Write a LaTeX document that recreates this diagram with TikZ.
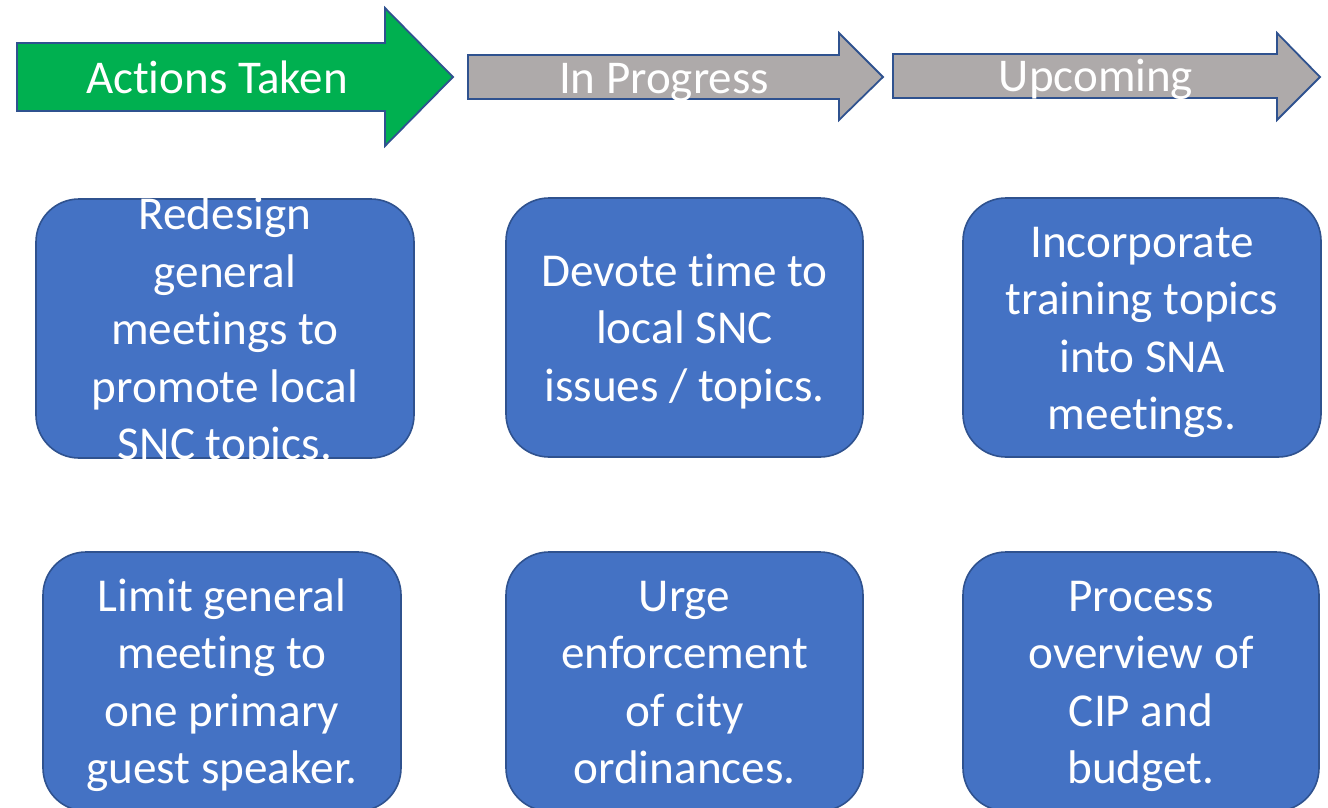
\documentclass[tikz,border=0pt]{standalone}
\usepackage{fontspec}
\setmainfont{Carlito}[Ligatures={NoCommon,NoContextual}]
\definecolor{actgreen}{HTML}{00B050}
\definecolor{stepgray}{HTML}{AEAAAA}
\definecolor{boxblue}{HTML}{4472C4}
\definecolor{edgeblue}{HTML}{2F528F}
\newcommand\sa{\rule[-12.75pt]{0pt}{57.5pt}}
\newcommand\tI{t\kern0pt i}
\tikzset{
  arrowshape/.style={draw=edgeblue, line width=1.8pt, line join=miter},
  headtext/.style={text=white, inner sep=0pt, anchor=base, font=\fontsize{47}{57.5}\selectfont},
  taskbox/.style={draw=edgeblue, line width=1.6pt, fill=boxblue, rectangle, rounded corners=43pt, inner sep=0pt},
  tasktext/.style={text=white, inner sep=0pt, align=center, font=\fontsize{47.2}{57.5}\selectfont}
}
\begin{document}
\begin{tikzpicture}[x=1pt, y=-1pt]
\useasboundingbox (0,0) rectangle (1328,808);
\clip (0,0) rectangle (1328,808);
% header arrows
\draw[arrowshape, fill=actgreen] (17,43) -- (385,43) -- (385,8) -- (453,77) -- (385,146) -- (385,111) -- (17,111) -- cycle;
\draw[arrowshape, fill=stepgray] (468,55) -- (839,55) -- (839,33) -- (883,77) -- (839,120) -- (839,99) -- (468,99) -- cycle;
\draw[arrowshape, fill=stepgray] (893,54) -- (1277,54) -- (1277,33) -- (1320,77) -- (1277,120) -- (1277,98) -- (893,98) -- cycle;
\node[headtext] (h1) at (217,93) {Ac\tI ons Taken};
\node[headtext] (h2) at (664,93) {In Progress};
\node[headtext] (h3) at (1096,92) {Upcoming};
% boxes
\node[taskbox, minimum width=378pt, minimum height=259pt] (b1) at (225,328.5) {};
\node[taskbox, minimum width=357pt, minimum height=259pt] (b2) at (684.5,327.5) {};
\node[taskbox, minimum width=358pt, minimum height=259pt] (b3) at (1142,327.5) {};
\node[taskbox, minimum width=358pt, minimum height=259pt] (b4) at (222,681.5) {};
\node[taskbox, minimum width=357pt, minimum height=259pt] (b5) at (684.5,681.5) {};
\node[taskbox, minimum width=356pt, minimum height=259pt] (b6) at (1141,681.5) {};
\node[tasktext] (t1) at (b1.center) {\sa Redesign\\\sa general\\\sa mee\tI ngs to\\\sa promote local\\\sa SNC topics.};
\node[tasktext] (t2) at (b2.center) {\sa Devote \tI me to\\\sa local SNC\\\sa issues / topics.};
\node[tasktext] (t3) at (b3.center) {\sa Incorporate\\\sa training topics\\\sa into SNA\\\sa mee\tI ngs.};
\node[tasktext] (t4) at (b4.center) {\sa Limit general\\\sa mee\tI ng to\\\sa one primary\\\sa guest speaker.};
\node[tasktext] (t5) at (b5.center) {\sa Urge\\\sa enforcement\\\sa of city\\\sa ordinances.};
\node[tasktext] (t6) at (b6.center) {\sa Process\\\sa overview of\\\sa CIP and\\\sa budget.};
\end{tikzpicture}
\end{document}
